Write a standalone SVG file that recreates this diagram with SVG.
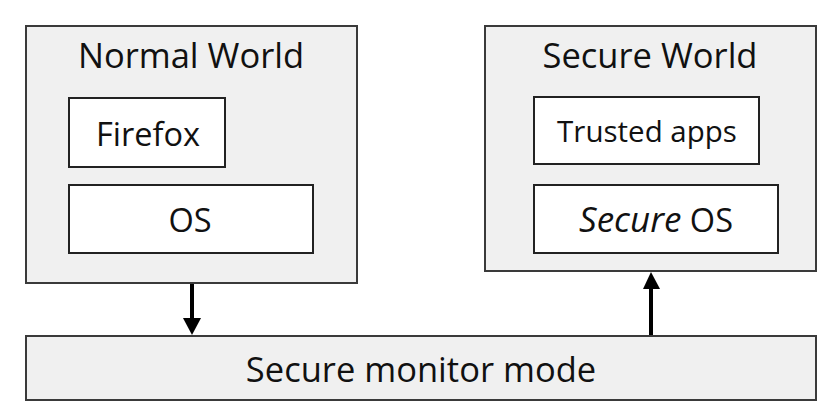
<svg xmlns="http://www.w3.org/2000/svg" width="838" height="420" viewBox="0 0 838 420">
<style>
.outer{fill:#f0f0f0;stroke:#3a3a3a;stroke-width:2}
.inner{fill:#ffffff;stroke:#222;stroke-width:2}
.t{font-family:"Open Sans","Noto Sans","Liberation Sans",sans-serif;fill:#111;text-anchor:middle}
.big{font-size:34.5px}
.mid{font-size:32.5px}
.sm{font-size:29.5px}
.conn{stroke:#000;stroke-width:4;fill:none}
</style>
<rect width="838" height="420" fill="#fff"/>
<g id="normal-world">
<rect class="outer" x="26" y="26" width="331" height="257"/>
<text class="t big" x="191" y="68">Normal World</text>
</g>
<g id="firefox">
<rect class="inner" x="69" y="98" width="156" height="69"/>
<text class="t mid" x="148" y="146">Firefox</text>
</g>
<g id="os">
<rect class="inner" x="69" y="185" width="244" height="68"/>
<text class="t mid" x="190" y="232">OS</text>
</g>
<g id="secure-world">
<rect class="outer" x="485" y="26" width="331" height="245"/>
<text class="t big" x="650" y="68">Secure World</text>
</g>
<g id="trusted-apps">
<rect class="inner" x="534" y="97" width="225" height="67"/>
<text class="t sm" x="647" y="142">Trusted apps</text>
</g>
<g id="secure-os">
<rect class="inner" x="534" y="185" width="244" height="68"/>
<text class="t mid" x="656" y="232"><tspan font-style="italic" font-size="35px">Secure</tspan> OS</text>
</g>
<g id="secure-monitor">
<rect class="outer" x="26" y="336" width="790" height="64"/>
<text class="t big" x="421" y="382">Secure monitor mode</text>
</g>
<g id="connectors">
<line class="conn" x1="192" y1="284" x2="192" y2="319"/>
<path d="M183,318 L201,318 L192,335 Z" fill="#000"/>
<line class="conn" x1="651" y1="335" x2="651" y2="288"/>
<path d="M643,289 L660,289 L651,272 Z" fill="#000"/>
</g>
</svg>
